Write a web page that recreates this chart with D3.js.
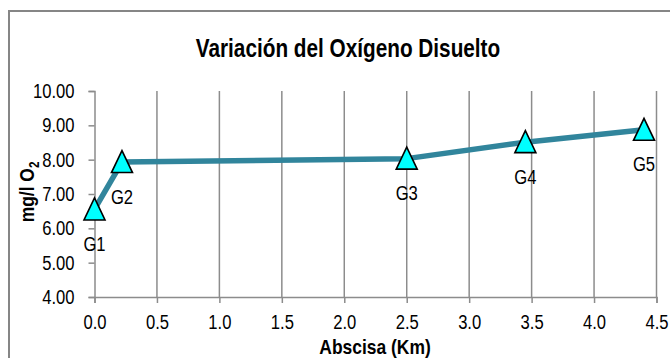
<!DOCTYPE html>
<html>
<head>
<meta charset="utf-8">
<script src="https://cdn.jsdelivr.net/npm/d3@7"></script>
<style>
  html, body { margin: 0; padding: 0; background: #fff; }
  svg { display: block; }
  text { font-family: "Liberation Sans Narrow", "Arial Narrow", "Liberation Sans", Arial, sans-serif; }
</style>
</head>
<body>
<svg id="chart" width="670" height="358"></svg>
<script>
// Dissolved oxygen along the river, by sampling station
const stations = ["G1", "G2", "G3", "G4", "G5"];
const abscissaKm = [0.0, 0.22, 2.5, 3.45, 4.4];
const oxygenMgL = [6.55, 7.93, 8.03, 8.51, 8.87];

const xTicks = [0, 0.5, 1, 1.5, 2, 2.5, 3, 3.5, 4, 4.5];
const yTicks = [4, 5, 6, 7, 8, 9, 10];

const titleText = "Variación del Oxígeno Disuelto";
const xTitle = "Abscisa (Km)";

const svg = d3.select("#chart");
const W = 670, H = 358;
const plot = { left: 94.5, right: 656.5, top: 91, bottom: 297 };

const x = d3.scaleLinear().domain([0, 4.5]).range([plot.left, plot.right]);
const y = d3.scaleLinear().domain([4, 10]).range([plot.bottom, plot.top]);

const grey = "#8c8c8c";
const NARROW = 0.83; // horizontal squeeze for a narrow sans look

// squeeze each text horizontally while keeping its anchor
function condense(sel, k = NARROW) {
  sel.each(function () {
    const len = this.getComputedTextLength();
    d3.select(this).attr("textLength", len * k).attr("lengthAdjust", "spacingAndGlyphs");
  });
}

// chart frame
svg.append("rect")
  .attr("x", 9).attr("y", 11)
  .attr("width", W + 20).attr("height", H + 20)
  .attr("fill", "#fff").attr("stroke", "#868686").attr("stroke-width", 2);

// title
svg.append("text")
  .attr("x", 348).attr("y", 56.5)
  .attr("text-anchor", "middle")
  .attr("font-size", 25).attr("font-weight", "bold")
  .attr("fill", "#000")
  .text(titleText)
  .call(condense);

// vertical gridlines
svg.append("g")
  .selectAll("line")
  .data(xTicks.filter(d => d > 0))
  .join("line")
  .attr("x1", d => x(d)).attr("x2", d => x(d))
  .attr("y1", plot.top).attr("y2", plot.bottom)
  .attr("stroke", grey).attr("stroke-width", 1.5);

// x axis
const xAxis = svg.append("g")
  .attr("transform", `translate(0,${plot.bottom})`)
  .call(d3.axisBottom(x).tickValues(xTicks).tickFormat(d3.format(".1f")).tickSize(6).tickPadding(12));
xAxis.select(".domain").attr("stroke", grey).attr("stroke-width", 1.5);
xAxis.selectAll(".tick line").attr("stroke", grey).attr("stroke-width", 1.5);
xAxis.selectAll(".tick text")
  .attr("font-size", 20).attr("fill", "#000")
  .attr("font-family", "Liberation Sans Narrow, Arial Narrow, Liberation Sans, sans-serif")
  .call(condense);

// y axis
const yAxis = svg.append("g")
  .attr("transform", `translate(${plot.left},0)`)
  .call(d3.axisLeft(y).tickValues(yTicks).tickFormat(d3.format(".2f")).tickSize(6).tickPadding(14));
yAxis.select(".domain").attr("stroke", grey).attr("stroke-width", 1.5);
yAxis.selectAll(".tick line").attr("stroke", grey).attr("stroke-width", 1.5);
yAxis.selectAll(".tick text")
  .attr("font-size", 20).attr("fill", "#000")
  .attr("font-family", "Liberation Sans Narrow, Arial Narrow, Liberation Sans, sans-serif")
  .call(condense);

// axis titles
svg.append("text")
  .attr("x", 375).attr("y", 354)
  .attr("text-anchor", "middle")
  .attr("font-size", 21).attr("font-weight", "bold")
  .text(xTitle)
  .call(condense);

const yTitle = svg.append("text")
  .attr("transform", "translate(34,192) rotate(-90)")
  .attr("text-anchor", "middle")
  .attr("font-size", 21).attr("font-weight", "bold");
yTitle.append("tspan").text("mg/l O");
yTitle.append("tspan").attr("font-size", 14).attr("dy", 5).text("2");
yTitle.call(condense);

// data
const pts = stations.map((s, i) => ({ s, km: abscissaKm[i], v: oxygenMgL[i] }));

svg.append("path")
  .datum(pts)
  .attr("fill", "none")
  .attr("stroke", "#31859c")
  .attr("stroke-width", 5.5)
  .attr("stroke-linejoin", "round")
  .attr("d", d3.line().x(d => x(d.km)).y(d => y(d.v)));

// triangle markers
const tri = "M0,-11.5 L10.5,10.5 L-10.5,10.5 Z";
svg.append("g")
  .selectAll("path")
  .data(pts)
  .join("path")
  .attr("transform", d => `translate(${x(d.km)},${y(d.v)})`)
  .attr("d", tri)
  .attr("fill", "#00ffff")
  .attr("stroke", "#000")
  .attr("stroke-width", 1.6)
  .attr("stroke-linejoin", "miter");

// station labels
svg.append("g")
  .selectAll("text")
  .data(pts)
  .join("text")
  .attr("x", d => x(d.km))
  .attr("y", d => y(d.v) + 41.5)
  .attr("text-anchor", "middle")
  .attr("font-size", 20)
  .attr("fill", "#000")
  .text(d => d.s)
  .call(condense);
</script>
</body>
</html>
